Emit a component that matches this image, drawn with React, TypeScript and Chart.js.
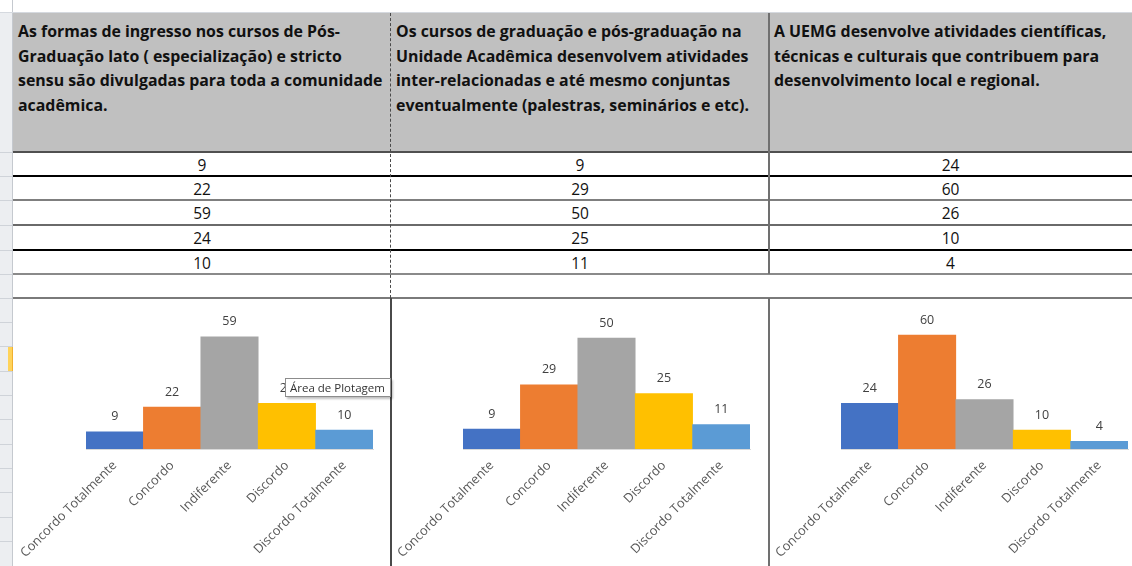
import React, { useEffect, useRef } from "react";
import { Chart, registerables } from "chart.js";

Chart.register(...registerables);

// ---- data ----
const categories = ["Concordo Totalmente", "Concordo", "Indiferente", "Discordo", "Discordo Totalmente"];
const seriesPosGraduacao = [9, 22, 59, 24, 10];
const seriesCursosIntegrados = [9, 29, 50, 25, 11];
const seriesUemgAtividades = [24, 60, 26, 10, 4];
const axisMaxValues = [70, 60, 70];
const barColors = ["#4472C4", "#ED7D31", "#A5A5A5", "#FFC000", "#5B9BD5"];
const question1Lines = [
  "As formas de ingresso nos cursos de Pós-",
  "Graduação lato ( especialização) e stricto",
  "sensu são divulgadas para toda a comunidade",
  "acadêmica.",
];
const question2Lines = [
  "Os cursos de graduação e pós-graduação na",
  "Unidade Acadêmica desenvolvem atividades",
  "inter-relacionadas e até mesmo conjuntas",
  "eventualmente (palestras, seminários e etc).",
];
const question3Lines = [
  "A UEMG desenvolve atividades científicas,",
  "técnicas e culturais que contribuem para",
  "desenvolvimento local e regional.",
];
const tooltipText = "Área de Plotagem";

const FONT = '"Open Sans", "Noto Sans", sans-serif';

const valueLabelPlugin = {
  id: "valueLabels",
  afterDatasetsDraw(chart: any) {
    const ctx = chart.ctx;
    const meta = chart.getDatasetMeta(0);
    const data = chart.data.datasets[0].data;
    ctx.save();
    ctx.font = `12.5px ${FONT}`;
    ctx.fillStyle = "#404040";
    ctx.textAlign = "center";
    ctx.textBaseline = "middle";
    meta.data.forEach((bar: any, i: number) => {
      ctx.fillText(String(data[i]), bar.x, bar.y - 15);
    });
    ctx.restore();
  },
};

function BarChart(props: { values: number[]; max: number; width: number; padLeft: number; padRight: number }) {
  const ref = useRef<HTMLCanvasElement | null>(null);
  useEffect(() => {
    if (!ref.current) return;
    const chart = new Chart(ref.current, {
      type: "bar",
      data: {
        labels: categories,
        datasets: [
          {
            data: props.values,
            backgroundColor: barColors,
            borderWidth: 0,
            barPercentage: 1,
            categoryPercentage: 1,
          },
        ],
      },
      options: {
        animation: false,
        responsive: false,
        maintainAspectRatio: false,
        layout: { padding: { left: props.padLeft, right: props.padRight, top: 17, bottom: 0 } },
        plugins: { legend: { display: false }, tooltip: { enabled: false } },
        scales: {
          x: {
            grid: { display: false, drawTicks: false },
            border: { display: true, color: "#d9d9d9", width: 1 },
            ticks: {
              autoSkip: false,
              maxRotation: 45,
              minRotation: 45,
              padding: 9,
              color: "#595959",
              font: { family: FONT, size: 12.8 },
            },
            afterFit: (scale: any) => {
              scale.height = 117;
              scale.paddingLeft = 0;
              scale.paddingRight = 0;
            },
          },
          y: { display: false, min: 0, max: props.max },
        },
      } as any,
      plugins: [valueLabelPlugin],
    });
    return () => chart.destroy();
  }, []);
  return <canvas ref={ref} width={props.width} height={267} style={{ display: "block" }} />;
}

const rowTops = [152, 176, 200, 225, 250, 274, 298];
const rowLineStyles = [
  { c: "#505050", h: 2 },
  { c: "#000000", h: 2 },
  { c: "#7f7f7f", h: 2 },
  { c: "#6a6a6a", h: 2 },
  { c: "#000000", h: 2 },
  { c: "#8a8a8a", h: 2 },
  { c: "#7a7a7a", h: 2 },
];
const gutterTicks = [152, 176, 200, 225, 250, 274, 298, 322, 346, 371, 395, 419, 444, 468, 492, 517, 541];

export default function App() {
  const cols = [
    { x: 13, w: 378, lines: question1Lines, values: seriesPosGraduacao, max: axisMaxValues[0], pl: 73, pr: 18 },
    { x: 391, w: 378, lines: question2Lines, values: seriesCursosIntegrados, max: axisMaxValues[1], pl: 72, pr: 19 },
    { x: 769, w: 363, lines: question3Lines, values: seriesUemgAtividades, max: axisMaxValues[2], pl: 72, pr: 4 },
  ];
  return (
    <div
      style={{
        position: "absolute",
        left: 0,
        top: 0,
        width: 1132,
        height: 566,
        overflow: "hidden",
        background: "#ffffff",
        fontFamily: FONT,
      }}
    >
      {/* left gutter */}
      <div style={{ position: "absolute", left: 0, top: 13, width: 12, height: 553, background: "#eceef1" }} />
      <div style={{ position: "absolute", left: 12, top: 0, width: 1, height: 566, background: "#c5c9cf" }} />
      {gutterTicks.map((y, i) => (
        <div key={"g" + i} style={{ position: "absolute", left: 0, top: y, width: 12, height: 1, background: "#cfd3d9" }} />
      ))}
      <div style={{ position: "absolute", left: 8, top: 347, width: 4, height: 24, background: "#ffd35a", borderRight: "1px solid #f0b030" }} />
      {/* top line */}
      <div style={{ position: "absolute", left: 0, top: 12, width: 1132, height: 1, background: "#d5d9df" }} />

      {/* header row */}
      <div style={{ position: "absolute", left: 13, top: 13, width: 1119, height: 139, background: "#c0c0c0" }} />
      {cols.map((c, i) => (
        <div
          key={"h" + i}
          style={{
            position: "absolute",
            left: c.x + 5,
            top: 19,
            fontWeight: 700,
            fontSize: 15.9,
            lineHeight: "24.5px",
            color: "#111",
            whiteSpace: "nowrap",
          }}
        >
          {c.lines.map((l, j) => (
            <div key={j}>{l}</div>
          ))}
        </div>
      ))}

      {/* data values */}
      {cols.map((c, i) =>
        c.values.map((v, r) => (
          <div
            key={"v" + i + "-" + r}
            style={{
              position: "absolute",
              left: c.x,
              width: c.w,
              top: rowTops[r] + 1,
              height: rowTops[r + 1] - rowTops[r],
              lineHeight: rowTops[r + 1] - rowTops[r] + "px",
              textAlign: "center",
              fontSize: 15.5,
              color: "#111",
            }}
          >
            {v}
          </div>
        ))
      )}

      {/* row lines */}
      {rowTops.map((y, i) => (
        <div
          key={"r" + i}
          style={{ position: "absolute", left: 13, top: y - 1, width: 1119, height: rowLineStyles[i].h, background: rowLineStyles[i].c }}
        />
      ))}

      {/* charts */}
      {cols.map((c, i) => (
        <div key={"c" + i} style={{ position: "absolute", left: c.x, top: 299, width: c.w, height: 267 }}>
          <BarChart values={c.values} max={c.max} width={c.w} padLeft={c.pl} padRight={c.pr} />
        </div>
      ))}

      {/* vertical separators */}
      <div style={{ position: "absolute", left: 390, top: 13, width: 0, height: 285, borderLeft: "1px dashed #4a4a4a" }} />
      <div style={{ position: "absolute", left: 390, top: 298, width: 2, height: 268, background: "#4a4a4a" }} />
      <div style={{ position: "absolute", left: 768, top: 13, width: 2, height: 261, background: "#707070" }} />
      <div style={{ position: "absolute", left: 768, top: 298, width: 2, height: 268, background: "#707070" }} />

      {/* tooltip overlay */}
      <div
        style={{
          position: "absolute",
          left: 285,
          top: 378,
          width: 106,
          height: 19,
          boxSizing: "border-box",
          background: "#ffffff",
          border: "1px solid #8c8c8c",
          boxShadow: "2px 2px 2px rgba(0,0,0,0.25)",
          fontSize: 11.5,
          lineHeight: "17px",
          paddingLeft: 4,
          color: "#333",
          whiteSpace: "nowrap",
        }}
      >
        {tooltipText}
      </div>
    </div>
  );
}
